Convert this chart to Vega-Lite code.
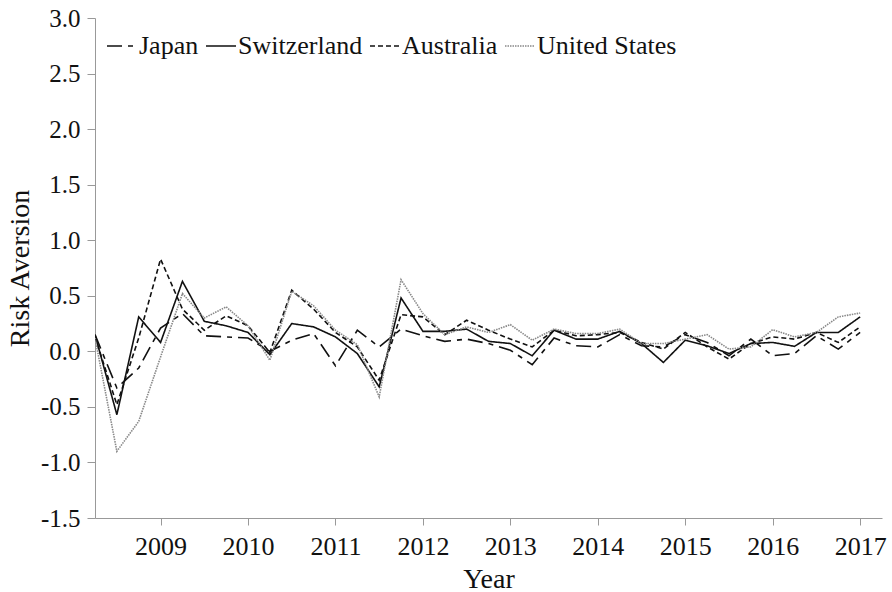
{
  "$schema": "https://vega.github.io/schema/vega-lite/v6.json",
  "width": 787,
  "height": 500,
  "autosize": {"type": "none"},
  "padding": {"left": 95, "top": 18, "right": 10, "bottom": 74},
  "background": "white",
  "config": {
    "view": {"stroke": null},
    "font": "Liberation Serif",
    "axis": {"labelFont": "Liberation Serif", "titleFont": "Liberation Serif", "labelColor": "#111", "titleColor": "#111", "titleFontWeight": "normal", "domainColor": "#999", "tickColor": "#999", "grid": false}
  },
  "data": {"values": [
    {"t": 2008.25, "Japan": 0.15, "Switzerland": 0.15, "Australia": 0.13, "United States": 0.12},
    {"t": 2008.5, "Japan": -0.33, "Switzerland": -0.57, "Australia": -0.48, "United States": -0.9},
    {"t": 2008.75, "Japan": -0.15, "Switzerland": 0.31, "Australia": 0.12, "United States": -0.63},
    {"t": 2009, "Japan": 0.21, "Switzerland": 0.08, "Australia": 0.83, "United States": -0.05},
    {"t": 2009.25, "Japan": 0.34, "Switzerland": 0.63, "Australia": 0.38, "United States": 0.52},
    {"t": 2009.5, "Japan": 0.14, "Switzerland": 0.27, "Australia": 0.19, "United States": 0.3},
    {"t": 2009.75, "Japan": 0.13, "Switzerland": 0.23, "Australia": 0.32, "United States": 0.4},
    {"t": 2010, "Japan": 0.12, "Switzerland": 0.17, "Australia": 0.23, "United States": 0.23},
    {"t": 2010.25, "Japan": 0.0, "Switzerland": -0.03, "Australia": -0.01, "United States": -0.08},
    {"t": 2010.5, "Japan": 0.1, "Switzerland": 0.25, "Australia": 0.55, "United States": 0.54},
    {"t": 2010.75, "Japan": 0.16, "Switzerland": 0.22, "Australia": 0.38, "United States": 0.41},
    {"t": 2011, "Japan": -0.13, "Switzerland": 0.13, "Australia": 0.17, "United States": 0.19},
    {"t": 2011.25, "Japan": 0.19, "Switzerland": -0.02, "Australia": 0.04, "United States": 0.06},
    {"t": 2011.5, "Japan": 0.04, "Switzerland": -0.32, "Australia": -0.26, "United States": -0.41},
    {"t": 2011.75, "Japan": 0.2, "Switzerland": 0.48, "Australia": 0.33, "United States": 0.645},
    {"t": 2012, "Japan": 0.14, "Switzerland": 0.18, "Australia": 0.31, "United States": 0.34},
    {"t": 2012.25, "Japan": 0.09, "Switzerland": 0.18, "Australia": 0.15, "United States": 0.15},
    {"t": 2012.5, "Japan": 0.11, "Switzerland": 0.2, "Australia": 0.28, "United States": 0.22},
    {"t": 2012.75, "Japan": 0.07, "Switzerland": 0.09, "Australia": 0.19, "United States": 0.17},
    {"t": 2013, "Japan": 0.01, "Switzerland": 0.07, "Australia": 0.11, "United States": 0.24},
    {"t": 2013.25, "Japan": -0.12, "Switzerland": -0.04, "Australia": 0.04, "United States": 0.1},
    {"t": 2013.5, "Japan": 0.12, "Switzerland": 0.19, "Australia": 0.19, "United States": 0.2},
    {"t": 2013.75, "Japan": 0.05, "Switzerland": 0.11, "Australia": 0.14, "United States": 0.16},
    {"t": 2014, "Japan": 0.04, "Switzerland": 0.11, "Australia": 0.15, "United States": 0.16},
    {"t": 2014.25, "Japan": 0.15, "Switzerland": 0.18, "Australia": 0.17, "United States": 0.2},
    {"t": 2014.5, "Japan": 0.05, "Switzerland": 0.07, "Australia": 0.08, "United States": 0.07},
    {"t": 2014.75, "Japan": 0.04, "Switzerland": -0.1, "Australia": 0.02, "United States": 0.07},
    {"t": 2015, "Japan": 0.15, "Switzerland": 0.1, "Australia": 0.17, "United States": 0.11},
    {"t": 2015.25, "Japan": 0.08, "Switzerland": 0.05, "Australia": 0.04, "United States": 0.15},
    {"t": 2015.5, "Japan": -0.04, "Switzerland": -0.02, "Australia": -0.07, "United States": 0.02},
    {"t": 2015.75, "Japan": 0.11, "Switzerland": 0.07, "Australia": 0.07, "United States": 0.04},
    {"t": 2016, "Japan": -0.04, "Switzerland": 0.08, "Australia": 0.13, "United States": 0.195},
    {"t": 2016.25, "Japan": -0.02, "Switzerland": 0.045, "Australia": 0.11, "United States": 0.13},
    {"t": 2016.5, "Japan": 0.14, "Switzerland": 0.17, "Australia": 0.17, "United States": 0.17},
    {"t": 2016.75, "Japan": 0.02, "Switzerland": 0.17, "Australia": 0.08, "United States": 0.31},
    {"t": 2017, "Japan": 0.17, "Switzerland": 0.31, "Australia": 0.22, "United States": 0.345}
  ]},
  "transform": [
    {"fold": ["Japan", "Switzerland", "Australia", "United States"], "as": ["country", "value"]}
  ],
  "mark": {"type": "line", "strokeWidth": 1.6, "clip": true},
  "encoding": {
    "x": {
      "field": "t", "type": "quantitative",
      "scale": {"domain": [2008.25, 2017.25], "nice": false, "zero": false},
      "axis": {"title": "Year", "values": [2009, 2010, 2011, 2012, 2013, 2014, 2015, 2016, 2017], "format": "d", "labelFontSize": 26, "titleFontSize": 28, "tickSize": 7, "labelPadding": 8, "titlePadding": 6, "labelFlush": false}
    },
    "y": {
      "field": "value", "type": "quantitative",
      "scale": {"domain": [-1.5, 3.0], "nice": false, "zero": false},
      "axis": {"title": "Risk Aversion", "values": [-1.5, -1.0, -0.5, 0, 0.5, 1.0, 1.5, 2.0, 2.5, 3.0], "labelExpr": "replace(format(datum.value, '.1f'), '\u2212', '-')", "labelFontSize": 25, "titleFontSize": 28, "tickSize": 8, "labelPadding": 7, "titlePadding": 6, "labelFlush": false}
    },
    "color": {
      "field": "country", "type": "nominal",
      "sort": ["Japan", "Switzerland", "Australia", "United States"],
      "scale": {"domain": ["Japan", "Switzerland", "Australia", "United States"], "range": ["#111", "#111", "#111", "#888"]},
      "legend": {"title": null, "orient": "none", "legendX": 11, "legendY": 12, "direction": "horizontal", "symbolType": "stroke", "symbolSize": 900, "symbolStrokeWidth": 1.6, "labelFont": "Liberation Serif", "labelFontSize": 26, "labelColor": "#111", "labelOffset": 1, "columnPadding": 3, "labelLimit": 300}
    },
    "strokeDash": {
      "field": "country", "type": "nominal",
      "sort": ["Japan", "Switzerland", "Australia", "United States"],
      "scale": {"domain": ["Japan", "Switzerland", "Australia", "United States"], "range": [[15, 6, 5, 6], [1, 0], [5, 3], [1.5, 1]]},
      "legend": null
    }
  }
}
